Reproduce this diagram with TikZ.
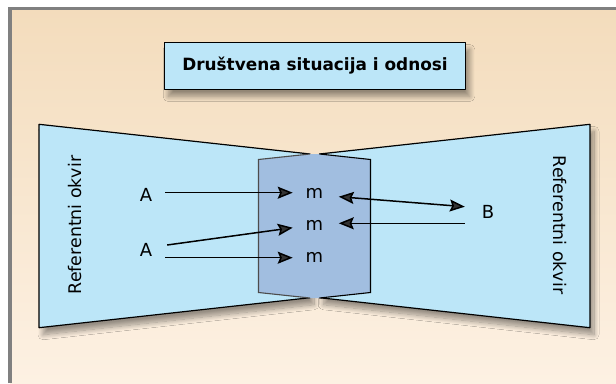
\documentclass[tikz,border=0pt]{standalone}
\usepackage{fontspec}
\setmainfont{DejaVu Sans}
\usetikzlibrary{arrows.meta,shadows.blur,calc}

\definecolor{framegray}{RGB}{128,128,128}
\definecolor{bgtop}{RGB}{243,220,188}
\definecolor{bgbot}{RGB}{253,241,227}
\definecolor{paleblue}{RGB}{188,230,248}
\definecolor{steelbox}{RGB}{161,190,224}

\begin{document}
\begin{tikzpicture}[x=1pt,y=-1pt,
  panel/.style={fill=paleblue, draw=black, line width=1.2pt, line join=bevel,
    blur shadow={shadow xshift=4pt, shadow yshift=-7pt, shadow blur radius=5pt,
      shadow blur steps=12, shadow opacity=40}},
  lbl/.style={inner sep=0pt, outer sep=0pt, font=\fontsize{18}{21}\selectfont},
  vlbl/.style={inner sep=0pt, outer sep=0pt, font=\fontsize{17.4}{20}\selectfont},
  link/.style={line width=1.5pt, -{Stealth[length=15pt,width=12pt,inset=2.5pt]}},
  twolink/.style={line width=1.5pt, {Stealth[length=15pt,width=12pt,inset=2.5pt]}-{Stealth[length=15pt,width=12pt,inset=2.5pt]}},
]
\useasboundingbox (0,0) rectangle (616,383);

% page background with grey frame on the left and top
\shade[top color=bgtop, bottom color=bgbot] (10,8.5) rectangle (616,383);
\draw[framegray, line width=3.3pt] (10,383) -- (10,8.5) -- (616,8.5);

% title
\node[panel, line width=1pt, minimum width=301.5, minimum height=47,
  font=\bfseries\fontsize{16.9}{20}\selectfont] (title) at (315,66)
  {Društvena situacija i odnosi};

% the two reference frames
\path[panel] (39,124.3) -- (310,154) -- (310,297.7) -- (39,327.7) -- cycle;
\path[panel] (590,124.3) -- (319.5,154) -- (319.5,297.7) -- (590,327.7) -- cycle;

% shared middle area
\fill[steelbox] (258.5,159.5) -- (310,154) -- (319.5,154) -- (370.5,159.5)
  -- (370.5,292.5) -- (319.5,298) -- (310,298) -- (258.5,292.5) -- cycle;
\draw[black!70, line width=1.1pt] (310,154) -- (258.5,159.5) -- (258.5,292.5) -- (310,298);
\draw[black, line width=1.1pt] (319.5,154) -- (370.5,159.5) -- (370.5,292.5) -- (319.5,298);

% labels
\node[vlbl, rotate=90] (okvirL) at (74.7,225) {Referentni okvir};
\node[vlbl, rotate=-90] (okvirR) at (560,225) {Referentni okvir};

\node[lbl] (A1) at (146,194.5) {A};
\node[lbl] (A2) at (146,250) {A};
\node[lbl] (m1) at (314.5,193) {m};
\node[lbl] (m2) at (314.5,225.5) {m};
\node[lbl] (m3) at (314.5,257.5) {m};
\node[lbl] (B) at (488,211.7) {B};

% connectors
\draw[link] ($(A1.east)+(13,-1.8)$) -- ($(m1.west)+(-13,-0.3)$);
\draw[link] ($(A2.east)+(15,-5)$) -- ($(m2.west)+(-13,2.2)$);
\draw[link] ($(A2.east)+(13,7.7)$) -- ($(m3.west)+(-13,0.2)$);
\draw[twolink] ($(m1.east)+(15.5,3.7)$) -- ($(B.west)+(-17,-5)$);
\draw[link] ($(B.west)+(-17,11.6)$) -- ($(m2.east)+(15.5,-2.2)$);

\end{tikzpicture}
\end{document}
